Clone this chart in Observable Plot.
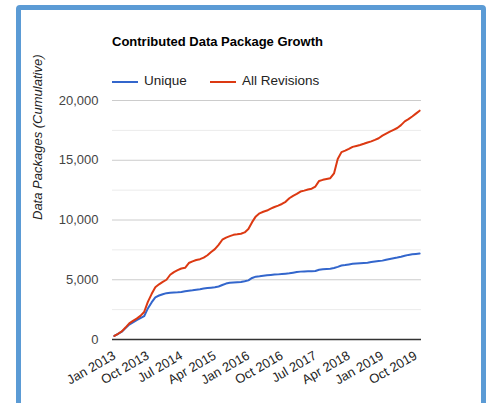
<!DOCTYPE html>
<html>
<head>
<meta charset="utf-8">
<script src="https://cdn.jsdelivr.net/npm/d3@7"></script>
<script src="https://cdn.jsdelivr.net/npm/@observablehq/plot@0.6"></script>
<style>
  html, body { margin: 0; padding: 0; background: #fff; width: 490px; height: 403px; overflow: hidden; }
  body { position: relative; font-family: "Liberation Sans", Arial, sans-serif; }
  #frame { position: absolute; left: 16px; top: 5px; width: 460px; height: 430px; border: 5px solid #5b9bd5; border-radius: 4px; background: #fff; }
  #chart { position: absolute; left: 0; top: 0; }
  .title { position: absolute; left: 112px; top: 35px; font-size: 13px; line-height: 1; font-weight: bold; color: #000; white-space: nowrap; }
  .sw { position: absolute; top: 81px; width: 26px; height: 2px; }
  .lg { position: absolute; top: 73.5px; font-size: 13.5px; line-height: 1; color: #222; white-space: nowrap; }
</style>
</head>
<body>
<div id="frame"></div>
<div id="chart"></div>
<div class="title">Contributed Data Package Growth</div>
<div class="sw" style="left:112px;background:#3366cc"></div>
<div class="lg" style="left:144px">Unique</div>
<div class="sw" style="left:210px;background:#dc3912"></div>
<div class="lg" style="left:242px">All Revisions</div>
<script>
const months = [
  "Jan 2013","Feb 2013","Mar 2013","Apr 2013","May 2013","Jun 2013","Jul 2013","Aug 2013","Sep 2013","Oct 2013","Nov 2013","Dec 2013",
  "Jan 2014","Feb 2014","Mar 2014","Apr 2014","May 2014","Jun 2014","Jul 2014","Aug 2014","Sep 2014","Oct 2014","Nov 2014","Dec 2014",
  "Jan 2015","Feb 2015","Mar 2015","Apr 2015","May 2015","Jun 2015","Jul 2015","Aug 2015","Sep 2015","Oct 2015","Nov 2015","Dec 2015",
  "Jan 2016","Feb 2016","Mar 2016","Apr 2016","May 2016","Jun 2016","Jul 2016","Aug 2016","Sep 2016","Oct 2016","Nov 2016","Dec 2016",
  "Jan 2017","Feb 2017","Mar 2017","Apr 2017","May 2017","Jun 2017","Jul 2017","Aug 2017","Sep 2017","Oct 2017","Nov 2017","Dec 2017",
  "Jan 2018","Feb 2018","Mar 2018","Apr 2018","May 2018","Jun 2018","Jul 2018","Aug 2018","Sep 2018","Oct 2018","Nov 2018","Dec 2018",
  "Jan 2019","Feb 2019","Mar 2019","Apr 2019","May 2019","Jun 2019","Jul 2019","Aug 2019","Sep 2019","Oct 2019","Nov 2019"
];
const unique = [
  300,470,650,950,1250,1430,1620,1780,1950,2600,3100,3530,
  3680,3790,3880,3920,3940,3955,3980,4030,4080,4120,4170,4210,
  4260,4300,4340,4380,4440,4560,4680,4750,4770,4790,4810,4870,
  4950,5150,5260,5290,5330,5370,5400,5430,5450,5480,5510,5540,
  5590,5640,5680,5700,5710,5715,5730,5840,5880,5900,5920,5980,
  6080,6190,6230,6280,6330,6360,6390,6410,6430,6480,6520,6560,
  6600,6680,6740,6800,6860,6930,7010,7080,7130,7160,7190
];
const allRevisions = [
  300,480,680,1000,1350,1560,1750,1980,2300,3150,3800,4370,
  4620,4820,5000,5420,5640,5800,5940,6000,6400,6540,6650,6720,
  6850,7050,7320,7560,7920,8350,8530,8650,8760,8800,8850,8960,
  9250,9820,10300,10560,10690,10790,10950,11090,11200,11340,11520,11820,
  12020,12180,12380,12460,12550,12620,12800,13270,13360,13430,13500,13900,
  15100,15680,15800,15950,16120,16200,16280,16380,16490,16580,16700,16840,
  17060,17230,17400,17550,17700,17940,18250,18440,18660,18900,19150
];
const seriesNames = ["Unique", "All Revisions"];
const seriesColors = ["#3366cc", "#dc3912"];
const xTickLabels = ["Jan 2013","Oct 2013","Jul 2014","Apr 2015","Jan 2016","Oct 2016","Jul 2017","Apr 2018","Jan 2019","Oct 2019"];
const yMajorTicks = [0, 5000, 10000, 15000, 20000];
const yMinorTicks = [2500, 7500, 12500, 17500];
const yTitle = "Data Packages (Cumulative)";

const rows = [
  ...months.map((m, i) => ({month: m, series: seriesNames[0], value: unique[i]})),
  ...months.map((m, i) => ({month: m, series: seriesNames[1], value: allRevisions[i]}))
];

const chart = Plot.plot({
  width: 490,
  height: 403,
  marginLeft: 112,
  marginRight: 69,
  marginTop: 100,
  marginBottom: 64,
  style: {fontFamily: "'Liberation Sans', Arial, sans-serif", fontSize: "13px", background: "transparent", overflow: "visible"},
  x: {type: "point", domain: months, padding: 0.5, axis: null},
  y: {domain: [0, 20000], axis: null},
  color: {domain: seriesNames, range: seriesColors},
  marks: [
    Plot.ruleY(yMinorTicks, {stroke: "#ebebeb", strokeWidth: 1}),
    Plot.ruleY(yMajorTicks.filter(d => d !== 0), {stroke: "#cccccc", strokeWidth: 1}),
    Plot.line(rows, {x: "month", y: "value", z: "series", stroke: "series", strokeWidth: 2, strokeLinejoin: "round"}),
    Plot.ruleY([0], {stroke: "#333333", strokeWidth: 1.5}),
    Plot.axisY({ticks: yMajorTicks, tickSize: 0, tickPadding: 14, tickFormat: d3.format(","), fill: "#444", label: null, fontSize: 13}),
    Plot.axisX({ticks: xTickLabels, tickSize: 0, tickPadding: 15, tickRotate: -30, fill: "#222", label: null, fontSize: 13}),
    Plot.text([yTitle], {frameAnchor: "left", dx: -75, rotate: -90, fontStyle: "italic", fill: "#222", fontSize: 13})
  ]
});
document.getElementById("chart").appendChild(chart);
</script>
</body>
</html>
